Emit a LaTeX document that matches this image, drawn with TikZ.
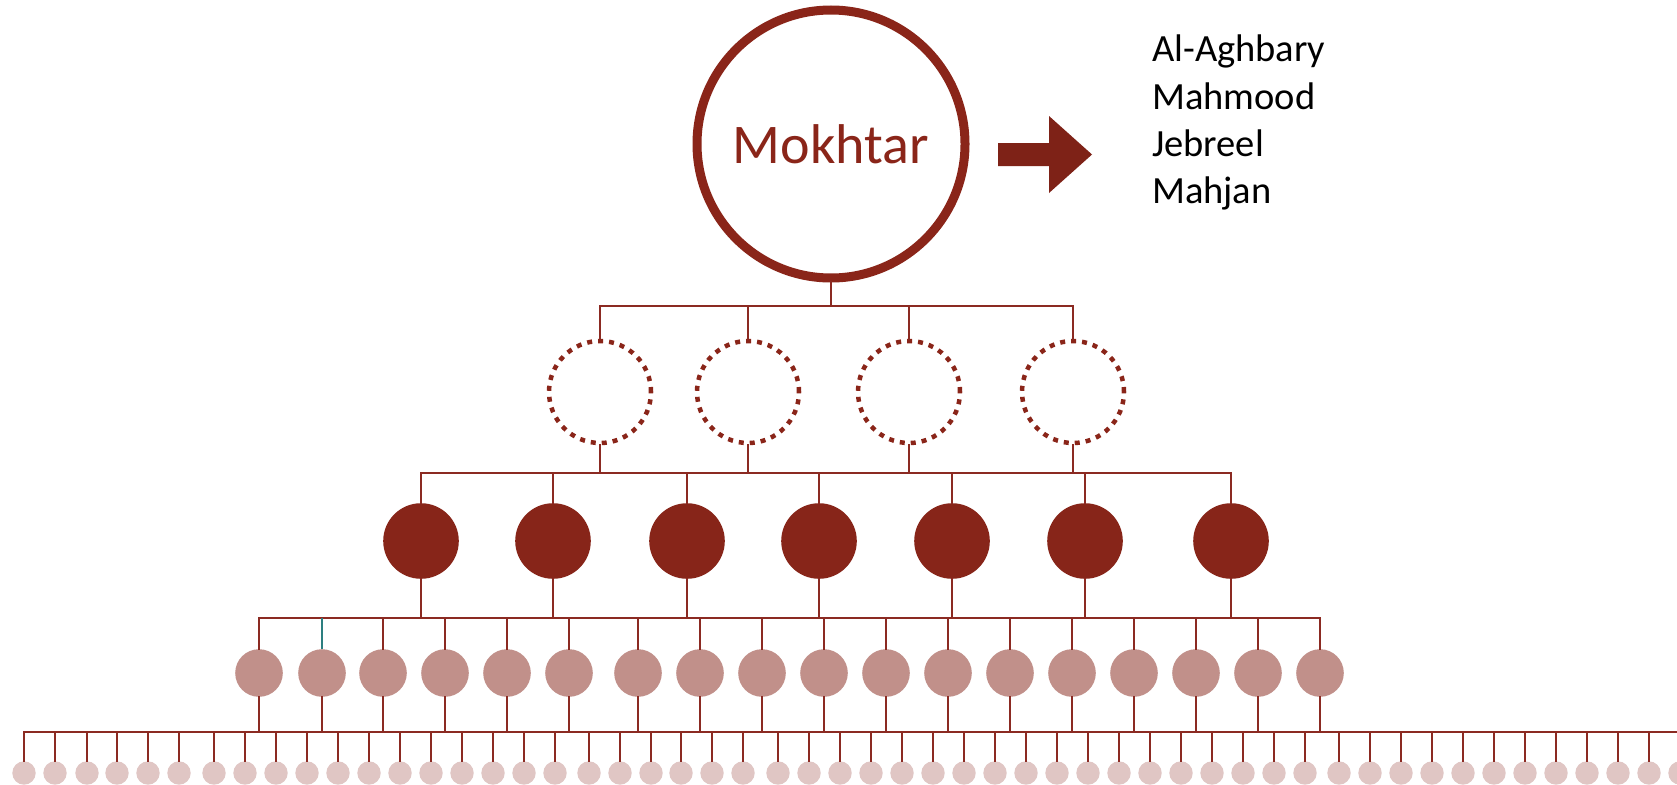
\documentclass[tikz,border=0pt]{standalone}
\usepackage{fontspec}
\setmainfont{Carlito}
\definecolor{ringred}{HTML}{8A2519}
\definecolor{linered}{HTML}{8B2A22}
\definecolor{darkfill}{HTML}{872519}
\definecolor{rosefill}{HTML}{C1908A}
\definecolor{lightfill}{HTML}{E0C6C4}
\definecolor{arrowred}{HTML}{7E2217}
\definecolor{tealline}{HTML}{2D7F80}
\begin{document}
\begin{tikzpicture}[x=1pt,y=-1pt,
  mring/.style={circle, draw=ringred, line width=9pt, minimum size=268pt, inner sep=0pt, text=ringred, font=\fontsize{56}{62}\selectfont},
  dotnode/.style={circle, draw=ringred, line width=4.5pt, dash pattern=on 5pt off 6pt, minimum size=102pt, inner sep=0pt},
  darknode/.style={circle, fill=darkfill, minimum size=75.6pt, inner sep=0pt},
  rosenode/.style={circle, fill=rosefill, minimum size=47.6pt, inner sep=0pt},
  lightnode/.style={circle, fill=lightfill, minimum size=23.4pt, inner sep=0pt},
  conn/.style={draw=linered, line width=2.6pt, line cap=rect},
  tconn/.style={draw=tealline, line width=1.3pt},
  listtext/.style={anchor=base west, font=\fontsize{38.5}{46}\selectfont, text=black, inner sep=0pt}
]
\useasboundingbox (0,0) rectangle (1677,784);
\clip (0,0) rectangle (1677,784);
\fill[white] (0,0) rectangle (1677,784);

% top node and arrow
\node[mring] (M) at (831,144) {Mokhtar};
\fill[arrowred] (998,143) -- (1049,143) -- (1049,116) -- (1092,154.5) -- (1049,193) -- (1049,166) -- (998,166) -- cycle;

% surname list
\node[listtext] (n1) at (1152,62) {Al-Aghbary};
\node[listtext] (n2) at (1152,109) {Mahmood};
\node[listtext] (n3) at (1152,156) {Jebreel};
\node[listtext] (n4) at (1152,203) {Mahjan};

% nodes
\foreach \x [count=\i] in {600,748,909,1073}
  \node[dotnode] (d\i) at (\x,392) {};
\foreach \x [count=\i] in {421,553,687,819,952,1085,1231}
  \node[darknode] (k\i) at (\x,541) {};
\foreach \x [count=\i] in {259,322,383,445,507,569,638,700,762,824,886,948,1010,1072,1134,1196,1258,1320}
  \node[rosenode] (r\i) at (\x,673) {};
\foreach \x [count=\i] in {24,55,87,117,148,179,214,245,276,307,338,369,400,431,462,493,524,555,589,620,651,681,712,743,778,809,840,871,902,933,964,995,1026,1057,1088,1119,1150,1181,1212,1243,1274,1305,1339,1370,1401,1432,1463,1494,1525,1556,1587,1618,1649,1680}
  \node[lightnode] (s\i) at (\x,773) {};

% bus coordinates
\coordinate (b1l) at (600,306);  \coordinate (b1r) at (1073,306);
\coordinate (b2l) at (421,473);  \coordinate (b2r) at (1231,473);
\coordinate (b3l) at (259,618);  \coordinate (b3r) at (1320,618);
\coordinate (b4l) at (24,732);   \coordinate (b4r) at (1690,732);

% level 1
\draw[conn] (M.south) -- (M.south |- b1l);
\draw[conn] (b1l) -- (b1r);
\foreach \i in {1,...,4} \draw[conn] (d\i.north) -- (d\i.north |- b1l);
% level 2
\foreach \i in {1,...,4} \draw[conn] (d\i.south) -- (d\i.south |- b2l);
\draw[conn] (b2l) -- (b2r);
\foreach \i in {1,...,7} \draw[conn] (k\i.north) -- (k\i.north |- b2l);
% level 3
\foreach \i in {1,...,7} \draw[conn] (k\i.south) -- (k\i.south |- b3l);
\draw[conn] (b3l) -- (b3r);
\foreach \i in {1,3,4,...,18} \draw[conn] (r\i.north) -- (r\i.north |- b3l);
\draw[tconn] (r2.north) -- (r2.north |- b3l);
% level 4
\foreach \i in {1,...,18} \draw[conn] (r\i.south) -- (r\i.south |- b4l);
\draw[conn] (b4l) -- (b4r);
\foreach \i in {1,...,54} \draw[conn] (s\i.north) -- (s\i.north |- b4l);
\end{tikzpicture}
\end{document}
